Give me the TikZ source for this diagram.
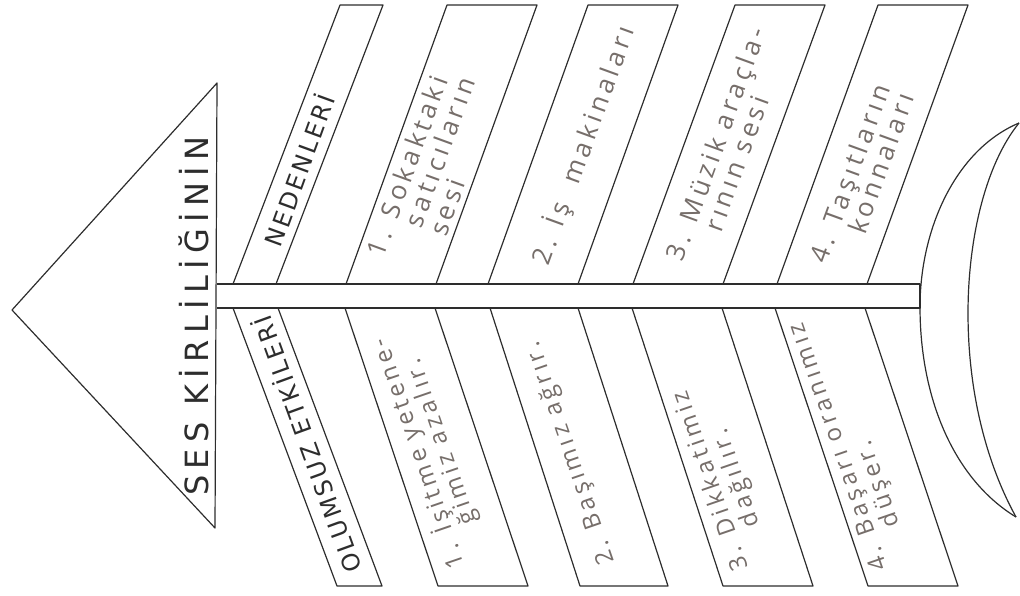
\documentclass[tikz,border=0pt]{standalone}
\usepackage{fontspec}
\setmainfont{Open Sans}
\newfontfamily\handfont[LetterSpace=16]{Open Sans}
\newfontfamily\capsfont[LetterSpace=12]{DejaVu Sans}
\newfontfamily\titlefont[LetterSpace=20]{DejaVu Sans}
\usetikzlibrary{positioning}
\definecolor{pencil}{RGB}{118,110,106}
\definecolor{ink}{RGB}{45,45,45}
\newcommand{\hang}{\phantom{1. }}

\begin{document}
\begin{tikzpicture}[
    x=0.5pt, y=-0.5pt,
    outline/.style={draw=ink, line width=0.6pt, line join=round},
    title/.style={font=\titlefont\fontsize{16}{18}\selectfont, text=ink, inner sep=1pt},
    heading/.style={font=\capsfont\fontsize{12}{14}\selectfont, text=ink, inner sep=1pt},
    cause/.style={font=\handfont\fontsize{13}{13}\selectfont, text=pencil, align=left,
                  rotate=70, anchor=west, inner sep=1pt},
    effect/.style={font=\handfont\fontsize{12}{12.5}\selectfont, text=pencil, align=left,
                   rotate=109, anchor=west, inner sep=1pt},
]
\useasboundingbox (0,0) rectangle (1020,595);

% Head
\draw[outline] (217,83) -- (12,310) -- (215,528) -- cycle;
\node[title, rotate=90] (head) at (194,316) {SES KİRLİLİĞİNİN};

% Spine
\draw[outline] (217,284) -- (920,284) -- (920,308) -- (217,308);

% Tail
\draw[outline] (1019,123) .. controls (955,150) and (920,230) .. (920,307)
    .. controls (920,400) and (955,480) .. (1016,517);
\draw[outline] (1019,123) .. controls (985,165) and (968,240) .. (968,313)
    .. controls (968,400) and (990,470) .. (1016,517);

% Upper bones: causes
\foreach \bx/\w/\ln in {233/43/107, 346/90/101, 488/90/100, 633/90/102, 777/90/101} {
    \draw[outline] (\bx,284) -- (\bx+\ln,5) -- (\bx+\ln+\w,5) -- (\bx+\w,284);
}
\node[heading, rotate=70] (causes) at (298,170) {NEDENLERİ};
\node[cause] (cause1) at (398,266) {1. Sokaktaki\\\hang satıcıların\\\hang sesi};
\node[cause] (cause2) at (540,266) {2. İş \ makinaları};
\node[cause] (cause3) at (685,266) {3. Müzik araçla-\\\hang rının sesi};
\node[cause] (cause4) at (829,268) {4. Taşıtların\\\hang konnaları};

% Lower bones: effects
\foreach \bx/\w/\ln in {233/45/104, 345/90/93, 490/88/90, 632/90/91, 775/90/93} {
    \draw[outline] (\bx,308) -- (\bx+\ln,586) -- (\bx+\ln+\w,586) -- (\bx+\w,308);
}
\node[heading, rotate=110] (effects) at (306,445) {OLUMSUZ ETKİLERİ};
\node[effect] (effect1) at (470,566) {1. İşitme yetene-\\\hang ğimiz azalır.};
\node[effect] (effect2) at (610,566) {2. Başımız ağrır.};
\node[effect] (effect3) at (755,568) {3. Dikkatimiz\\\hang dağılır.};
\node[effect] (effect4) at (895,568) {4. Başarı oranımız\\\hang düşer.};
\end{tikzpicture}
\end{document}
